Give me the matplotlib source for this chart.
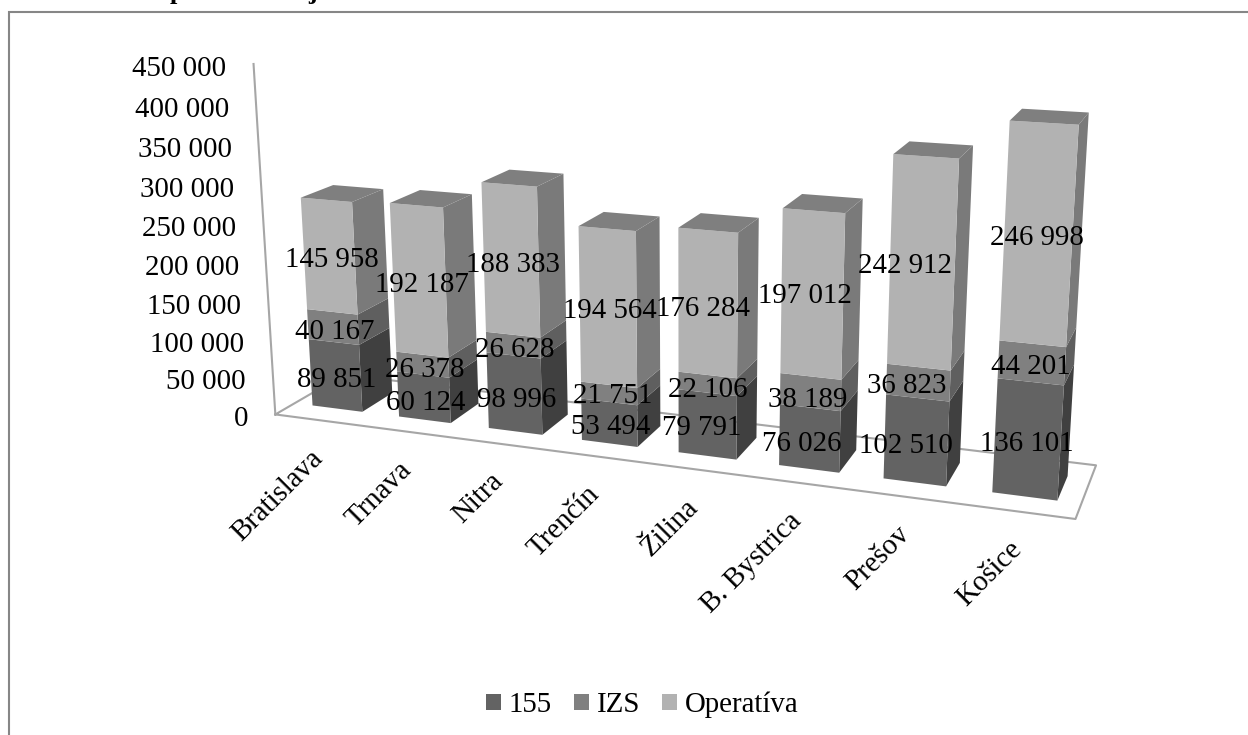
import numpy as np
import matplotlib
matplotlib.use("Agg")
import matplotlib.pyplot as plt
from matplotlib.patches import Patch

plt.rcParams['font.family'] = ['Liberation Serif', 'DejaVu Serif']

regions = ['Bratislava', 'Trnava', 'Nitra', 'Trenčín', 'Žilina', 'B. Bystrica', 'Prešov', 'Košice']
v_155 = [89851, 60124, 98996, 53494, 79791, 76026, 102510, 136101]
v_izs = [40167, 26378, 26628, 21751, 22106, 38189, 36823, 44201]
v_oper = [145958, 192187, 188383, 194564, 176284, 197012, 242912, 246998]
series_names = ['155', 'IZS', 'Operatíva']
y_ticks = [0, 50000, 100000, 150000, 200000, 250000, 300000, 350000, 400000, 450000]

# label centres in pixels, the original has them hand placed
lab_155 = [(337, 377), (426, 400), (517, 397), (611, 424), (702, 425), (802, 441), (906, 443), (1027, 441)]
lab_izs = [(335, 329), (425, 367), (515, 347), (613, 393), (708, 387), (808, 397), (907, 383), (1031, 364)]
lab_oper = [(332, 257), (422, 282), (513, 262), (610, 308), (703, 306), (805, 293), (905, 263), (1037, 235)]

front_cols = ['#636363', '#808080', '#b2b2b2']
side_cols = ['#404040', '#5f5f5f', '#7a7a7a']
top_col = '#7f7f7f'
line_col = '#a6a6a6'
FS = 20.8
ZMAX = 450000.0
GAP = 0.21     # gap each side of a bar, fraction of category
DEPTH = 0.27   # gap front and back of a bar, fraction of floor depth

# camera: world (x 0-1, depth 0-1, z 0-1) seen at pixel (u, v), solved below
view_points = [
    (0, 0, 0, 274, 416), (1, 0, 0, 1074, 521), (1, 1, 0, 1097, 465), (0, 1, 0, 344, 375),
    (0, 0, 1, 252, 63),
    (GAP / 8, DEPTH, 0, 314, 406), ((1 - GAP) / 8, DEPTH, 0, 363, 411), ((1 - GAP) / 8, 1 - DEPTH, 0, 390, 390),
    (GAP / 8, DEPTH, 275976 / ZMAX, 303, 197), ((1 - GAP) / 8, DEPTH, 275976 / ZMAX, 354, 202),
    ((1 - GAP) / 8, 1 - DEPTH, 275976 / ZMAX, 382, 191), (GAP / 8, 1 - DEPTH, 275976 / ZMAX, 333, 186),
    ((7 + GAP) / 8, DEPTH, 0, 993, 492), ((8 - GAP) / 8, DEPTH, 0, 1057, 499), ((8 - GAP) / 8, 1 - DEPTH, 0, 1068, 477),
    ((7 + GAP) / 8, DEPTH, 427300 / ZMAX, 1011, 120), ((8 - GAP) / 8, DEPTH, 427300 / ZMAX, 1078, 124),
    ((8 - GAP) / 8, 1 - DEPTH, 427300 / ZMAX, 1088, 113), ((7 + GAP) / 8, 1 - DEPTH, 427300 / ZMAX, 1022, 109),
]

A = []
for wx, wy, wz, u, v in view_points:
    A.append([wx, wy, wz, 1, 0, 0, 0, 0, -u * wx, -u * wy, -u * wz, -u])
    A.append([0, 0, 0, 0, wx, wy, wz, 1, -v * wx, -v * wy, -v * wz, -v])
P = np.linalg.svd(np.array(A, dtype=float))[2][-1].reshape(3, 4)


def project(x, y, z):
    h = P @ np.array([x, y, z / ZMAX, 1.0])
    return h[0] / h[2], h[1] / h[2]


fig = plt.figure(figsize=(12.48, 7.35), dpi=100)
ax = fig.add_axes([0, 0, 1, 1])
ax.set_xlim(0, 1248)
ax.set_ylim(735, 0)
ax.axis('off')

# chart frame, right and bottom edges fall outside the picture
ax.plot([9, 9, 1250], [740, 12, 12], color='#868686', lw=1.5, solid_joinstyle='miter')

# clipped title, only the descenders are visible
ax.text(177, -1, 'p', fontsize=19, fontweight='bold', ha='center', va='baseline', clip_on=True)
ax.text(313, -1, 'j', fontsize=19, fontweight='bold', ha='center', va='baseline', clip_on=True)

# floor and wall
floor = [project(0, 0, 0), project(1, 0, 0), project(1, 1, 0), project(0, 1, 0), project(0, 0, 0)]
ax.plot(*zip(*floor), color=line_col, lw=1.5, zorder=1)
ax.plot(*zip(project(0, 0, 0), project(0, 0, ZMAX)), color=line_col, lw=1.5, zorder=1)

for z in y_ticks:
    px, py = project(0, 0, z)
    ax.text(px - 27, py + 5, f'{z:,}'.replace(',', ' '), fontsize=FS, ha='right', va='center')

stacks = [v_155, v_izs, v_oper]
for i in range(len(regions)):
    x0, x1 = (i + GAP) / 8, (i + 1 - GAP) / 8
    y0, y1 = DEPTH, 1 - DEPTH
    base = 0
    for s, vals in enumerate(stacks):
        top = base + vals[i]
        side = [project(x1, y0, base), project(x1, y1, base), project(x1, y1, top), project(x1, y0, top)]
        ax.fill(*zip(*side), color=side_cols[s], lw=0, zorder=2)
        front = [project(x0, y0, base), project(x1, y0, base), project(x1, y0, top), project(x0, y0, top)]
        ax.fill(*zip(*front), color=front_cols[s], lw=0, zorder=2)
        base = top
    lid = [project(x0, y0, base), project(x1, y0, base), project(x1, y1, base), project(x0, y1, base)]
    ax.fill(*zip(*lid), color=top_col, lw=0, zorder=2)

for vals, pos in zip(stacks, [lab_155, lab_izs, lab_oper]):
    for val, (px, py) in zip(vals, pos):
        ax.text(px, py + 2.5, f'{val:,}'.replace(',', ' '), fontsize=FS, ha='center', va='center', zorder=5)

for i, name in enumerate(regions):
    px, py = project((i + 0.5) / 8, 0, 0)
    ax.text(px, py + 34, name, fontsize=FS, rotation=45, rotation_mode='anchor', ha='right', va='center')

handles = [Patch(color=c, lw=0) for c in front_cols]
ax.legend(handles, series_names, ncol=3, frameon=False, fontsize=FS, loc='center',
          bbox_to_anchor=(642, 705), bbox_transform=ax.transData,
          handlelength=0.52, handleheight=0.52, handletextpad=0.28, columnspacing=0.75)

fig.savefig('out.png', dpi=100)
